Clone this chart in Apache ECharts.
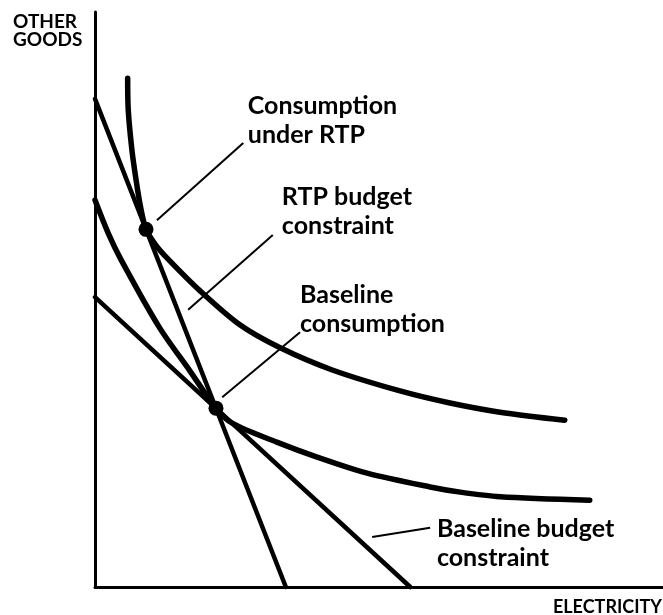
<!DOCTYPE html>
<html>
<head>
<meta charset="utf-8">
<title>Electricity vs other goods</title>
<script src="https://cdn.jsdelivr.net/npm/echarts@6/dist/echarts.min.js"></script>
<style>
  html, body { margin: 0; padding: 0; background: #fff; }
  #chart { width: 663px; height: 615px; }
</style>
</head>
<body>
<div id="chart"></div>
<script>
// Quantities on both axes are in arbitrary units (0-100).
// Indifference curve reached under real-time pricing
const rtpIndifference = [
  [5.75, 88.5], [5.85, 83.0], [6.5, 76.0], [7.2, 71.0], [8.0, 66.2],
  [8.98, 62.2], [10.6, 59.6], [12.7, 57.2], [18.5, 51.5], [25.5, 45.6],
  [32.6, 41.6], [41.9, 37.7], [53.7, 34.1], [62.5, 32.0], [71.3, 30.4], [82.7, 29.0]
];
// Indifference curve through baseline consumption
const baselineIndifference = [
  [0, 67.3], [2.3, 61.6], [4.6, 56.9], [11.3, 45.2], [16.7, 37.6],
  [21.3, 31.1], [24.3, 28.4], [32.0, 25.2], [39.1, 22.6], [47.9, 19.8],
  [59.0, 17.4], [64.3, 16.5], [71.3, 15.7], [87.1, 15.1]
];
// Budget constraints: intercepts on the other-goods and electricity axes
const rtpBudget = [[0, 84.9], [33.6, 0]];
const baselineBudget = [[0, 50.4], [55.5, 0]];
// Consumption bundles
const rtpConsumption = [8.98, 62.2];
const baselineConsumption = [21.3, 31.1];

// Callout labels: text, where the text block starts, and its leader line
const notes = [
  { text: 'Consumption\nunder RTP', at: [26.9, 81.2], leader: [[26.1, 77.2], [10.9, 63.8]] },
  { text: 'RTP budget\nconstraint', at: [32.9, 65.4], leader: [[31.3, 61.2], [16.4, 48.2]] },
  { text: 'Baseline\nconsumption', at: [36.1, 48.2], leader: [[36.1, 44.3], [22.4, 33.0]] },
  { text: 'Baseline budget\nconstraint', at: [60.2, 7.5], leader: [[48.8, 8.7], [59.0, 10.3]] }
];

const INK = '#000';
const chart = echarts.init(document.getElementById('chart'), null, { renderer: 'canvas' });

function curve(data, width, smooth) {
  return {
    type: 'line', data: data, showSymbol: false, symbol: 'none',
    smooth: smooth || false,
    clip: false, silent: true, z: 3,
    lineStyle: { color: INK, width: width, cap: 'round', join: 'round' }
  };
}

const series = [
  curve(rtpIndifference, 5.5, 0.3),
  curve(baselineIndifference, 5.5, 0.3),
  curve(rtpBudget, 4.5),
  curve(baselineBudget, 4.5)
];
notes.forEach(n => {
  const s = curve(n.leader, 2);
  s.lineStyle.cap = 'butt';
  series.push(s);
});
series.push({
  type: 'scatter', data: [rtpConsumption, baselineConsumption],
  symbol: 'circle', symbolSize: 15, itemStyle: { color: INK, opacity: 1 }, silent: true, z: 5
});
series.push({
  type: 'scatter', symbolSize: 0, silent: true, z: 6,
  itemStyle: { opacity: 1 },
  data: notes.map(n => ({ value: n.at, name: n.text })),
  label: {
    show: true, position: 'right', distance: 0,
    formatter: p => p.name,
    fontFamily: 'Lato', fontWeight: 'bold', fontSize: 25, lineHeight: 29,
    color: INK, opacity: 1, align: 'left'
  }
});

chart.setOption({
  backgroundColor: '#fff',
  animation: false,
  grid: { left: 95, right: 0, top: 12, bottom: 28 },
  xAxis: {
    type: 'value', min: 0, max: 100,
    axisLine: { show: true, lineStyle: { color: INK, width: 3 } },
    axisTick: { show: false }, axisLabel: { show: false }, splitLine: { show: false }
  },
  yAxis: {
    type: 'value', min: 0, max: 100,
    axisLine: { show: true, lineStyle: { color: INK, width: 3 } },
    axisTick: { show: false }, axisLabel: { show: false }, splitLine: { show: false }
  },
  graphic: [
    {
      type: 'text', left: 13, top: 12,
      style: { text: 'OTHER\nGOODS', font: 'bold 19px Lato', lineHeight: 18, fill: INK }
    },
    {
      type: 'text', right: 1, top: 598,
      style: { text: 'ELECTRICITY', font: 'bold 18px Lato', fill: INK }
    }
  ],
  series: series
});
</script>
</body>
</html>
